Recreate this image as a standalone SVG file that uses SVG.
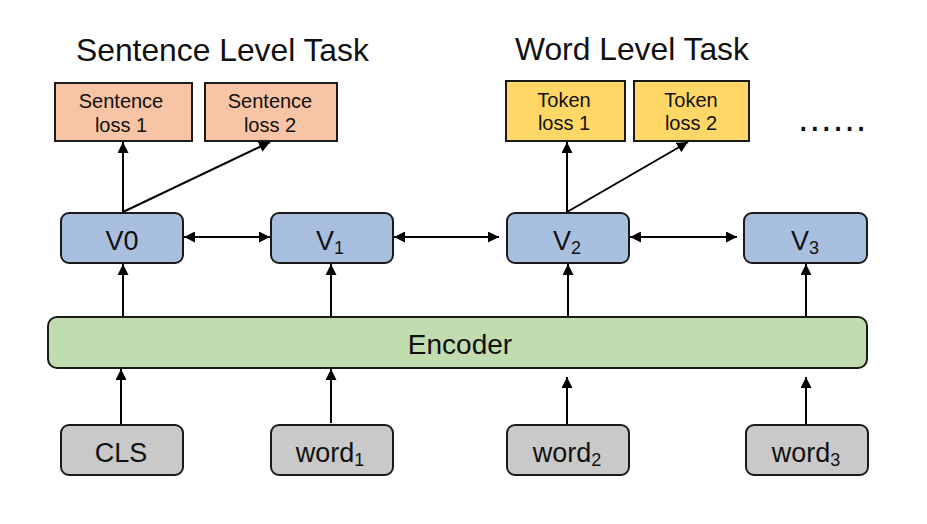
<svg xmlns="http://www.w3.org/2000/svg" width="927" height="524" viewBox="0 0 927 524">
<style>
  .box{stroke:#1a1a1a;stroke-width:2}
  .loss-s{fill:#F7C4A5}
  .loss-t{fill:#FFD766}
  .vec{fill:#A9BFE0}
  .enc{fill:#C1DCAF}
  .inp{fill:#C9C9C9}
  .edge{stroke:#000;stroke-width:2;fill:none}
  text{font-family:"Liberation Sans",Arial,sans-serif;fill:#111}
  .title{font-size:31.8px}
  .small{font-size:20px;text-anchor:middle}
  .vlab{font-size:27px;text-anchor:middle}
  .sub{font-size:18px}
  .in{font-size:27px;text-anchor:middle}
</style>
<defs>
  <marker id="ah" markerUnits="userSpaceOnUse" markerWidth="11" markerHeight="11" viewBox="0 0 10 10" refX="10" refY="5" orient="auto-start-reverse">
    <path d="M0,0 L10,5 L0,10 z" fill="#000"/>
  </marker>
</defs>
<rect width="927" height="524" fill="#fff"/>

<text class="title" x="76" y="61">Sentence Level Task</text>
<text class="title" x="515" y="60">Word Level Task</text>
<text x="798" y="131" style="font-size:38px;letter-spacing:1px">......</text>

<g id="sloss1"><rect class="box loss-s" x="55" y="83" width="137" height="58"/><text class="small" x="121" y="108">Sentence</text><text class="small" x="121" y="132">loss 1</text></g>
<g id="sloss2"><rect class="box loss-s" x="205" y="83" width="132" height="58"/><text class="small" x="270" y="108">Sentence</text><text class="small" x="270" y="132">loss 2</text></g>
<g id="tloss1"><rect class="box loss-t" x="506" y="81" width="119" height="60"/><text class="small" x="564" y="107">Token</text><text class="small" x="564" y="130">loss 1</text></g>
<g id="tloss2"><rect class="box loss-t" x="634" y="81" width="115" height="60"/><text class="small" x="691" y="107">Token</text><text class="small" x="691" y="130">loss 2</text></g>

<g id="v0"><rect class="box vec" x="61" y="213" width="122" height="50" rx="8"/><text class="vlab" x="122" y="250">V0</text></g>
<g id="v1"><rect class="box vec" x="271" y="213" width="122" height="50" rx="8"/><text class="vlab" x="330" y="250">V<tspan class="sub" dy="4">1</tspan></text></g>
<g id="v2"><rect class="box vec" x="507" y="213" width="122" height="50" rx="8"/><text class="vlab" x="567" y="250">V<tspan class="sub" dy="4">2</tspan></text></g>
<g id="v3"><rect class="box vec" x="744" y="213" width="123" height="50" rx="8"/><text class="vlab" x="805" y="250">V<tspan class="sub" dy="4">3</tspan></text></g>

<g id="encoder"><rect class="box enc" x="48" y="317" width="819" height="51" rx="9"/><text x="460" y="354" style="font-size:28px;text-anchor:middle">Encoder</text></g>

<g id="cls"><rect class="box inp" x="61" y="425" width="122" height="50" rx="8"/><text class="in" x="121" y="462">CLS</text></g>
<g id="word1"><rect class="box inp" x="271" y="425" width="122" height="50" rx="8"/><text class="in" x="330" y="462">word<tspan class="sub" dy="4">1</tspan></text></g>
<g id="word2"><rect class="box inp" x="507" y="425" width="122" height="50" rx="8"/><text class="in" x="567" y="462">word<tspan class="sub" dy="4">2</tspan></text></g>
<g id="word3"><rect class="box inp" x="746" y="425" width="122" height="50" rx="8"/><text class="in" x="806" y="462">word<tspan class="sub" dy="4">3</tspan></text></g>

<g id="connectors">
  <line class="edge" x1="123" y1="212" x2="123" y2="142" marker-end="url(#ah)"/>
  <line class="edge" x1="123" y1="212" x2="270" y2="142" marker-end="url(#ah)"/>
  <line class="edge" x1="567" y1="212" x2="567" y2="142" marker-end="url(#ah)"/>
  <line class="edge" x1="567" y1="212" x2="688" y2="142" marker-end="url(#ah)"/>

  <line class="edge" x1="184" y1="237" x2="270" y2="237" marker-start="url(#ah)" marker-end="url(#ah)"/>
  <line class="edge" x1="394" y1="237" x2="499" y2="237" marker-start="url(#ah)" marker-end="url(#ah)"/>
  <line class="edge" x1="630" y1="237" x2="737" y2="237" marker-start="url(#ah)" marker-end="url(#ah)"/>

  <line class="edge" x1="123" y1="316" x2="123" y2="264" marker-end="url(#ah)"/>
  <line class="edge" x1="331" y1="316" x2="331" y2="264" marker-end="url(#ah)"/>
  <line class="edge" x1="568" y1="316" x2="568" y2="264" marker-end="url(#ah)"/>
  <line class="edge" x1="806" y1="316" x2="806" y2="264" marker-end="url(#ah)"/>

  <line class="edge" x1="121" y1="424" x2="121" y2="369" marker-end="url(#ah)"/>
  <line class="edge" x1="331" y1="423" x2="331" y2="369" marker-end="url(#ah)"/>
  <line class="edge" x1="567" y1="424" x2="567" y2="377" marker-end="url(#ah)"/>
  <line class="edge" x1="806" y1="424" x2="806" y2="377" marker-end="url(#ah)"/>
</g>
</svg>
